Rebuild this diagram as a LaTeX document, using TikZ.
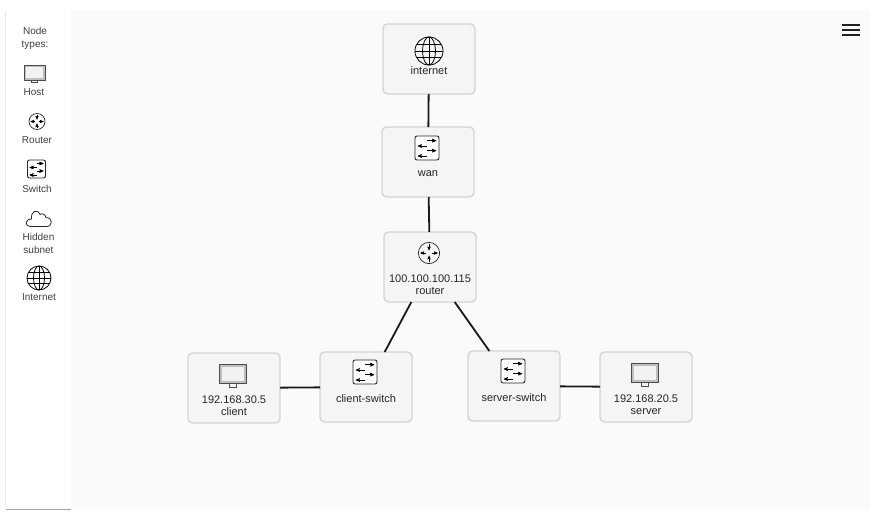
\documentclass[tikz,border=0pt]{standalone}
\usepackage{fontspec}
\setmainfont{Liberation Sans}
\usetikzlibrary{arrows, positioning}

\begin{document}
\begin{tikzpicture}[x=1pt, y=-1pt]
	\tikzset {>=stealth', node distance=40pt,
		device/.style={draw=black!17, line width=1.4pt, fill=black!4, rounded corners=4.5pt, minimum width=92pt, minimum height=70pt, outer sep=0pt},
		caption/.style={font=\fontsize{11}{12}\selectfont, align=center, text=black!85, inner sep=0pt},
		legend/.style={font=\fontsize{10}{13}\selectfont, align=center, text=black!75, inner sep=0pt},
		link/.style={line width=1.8pt, black!90},
		hosticon/.pic={
			\draw[black!70, line width=1pt, fill=black!25] (-10.5,-8) rectangle (10.5,7);
			\fill[black!5] (-8.5,-6) rectangle (8.5,5);
			\draw[black!70, line width=.8pt] (-3,7) rectangle (3,9.5);
		},
		routericon/.pic={
			\draw[black!85, line width=.7pt] (0,0) circle (8);
			\foreach \ang in {0,180} {
				\draw[->, black, line width=.45pt, rotate=\ang] (2,0) -- (6.5,0);
			}
			\foreach \ang in {90,270} {
				\draw[->, black, line width=.45pt, rotate=\ang] (6.5,0) -- (2,0);
			}
		},
		switchicon/.pic={
			\draw[black!85, line width=.9pt, fill=white, rounded corners=2pt] (-9,-9) rectangle (9,9);
			\draw[->, black, line width=.6pt] (0,-5.5) -- (7,-5.5);
			\draw[->, black, line width=.6pt] (0,-1.5) -- (-7,-1.5);
			\draw[->, black, line width=.6pt] (0,2) -- (7,2);
			\draw[->, black, line width=.6pt] (0,6) -- (-7,6);
		},
		cloudicon/.pic={
			\draw[black!85, line width=.8pt] (-8,8.5) -- (8,8.5) .. controls (14.5,8.5) and (14.5,-.5) .. (7.5,-.5) .. controls (7,-4) and (3,-5) .. (1.5,-3.5) .. controls (-1,-9.5) and (-8,-7) .. (-7,1) .. controls (-14,1) and (-14,8.5) .. (-8,8.5) -- cycle;
		},
		globeicon/.pic={
			\draw[black, line width=.8pt] (0,0) circle (12);
			\draw[black, line width=.8pt] (0,0) ellipse (5.5 and 12);
			\draw[black, line width=.8pt] (0,-12) -- (0,12) (-12,0) -- (12,0) (-10.4,-5.5) -- (10.4,-5.5) (-10.4,5.5) -- (10.4,5.5);
		}
	}

	\useasboundingbox (0,0) rectangle (885,520);
	\fill[white] (0,0) rectangle (885,520);
	\fill[black!2] (71,10) rectangle (870,509);
	\fill[black!7] (5,11) rectangle (6,509);
	\fill[black!35] (6,509) rectangle (71,510);

	\node[legend] (nodetypes) at (35,38) {Node\\types:};
	\pic at (34.5,73) {hosticon};
	\node[legend] (hostlegend) at (34,92.5) {Host};
	\pic at (37,121.5) {routericon};
	\node[legend] (routerlegend) at (37,140.5) {Router};
	\pic at (36.5,169) {switchicon};
	\node[legend] (switchlegend) at (37,188.5) {Switch};
	\pic at (38.5,218) {cloudicon};
	\node[legend] (hiddenlegend) at (38.5,243) {Hidden\\subnet};
	\pic at (39,278) {globeicon};
	\node[legend] (internetlegend) at (39,297.5) {Internet};

	\node[device] (internet) at (429,59) {};
	\node[device, below=33pt of internet, xshift=-1pt] (wan) {};
	\node[device, below=35pt of wan, xshift=2pt] (router) {};
	\node[device] (client) at (234,388) {};
	\node[device, right=40pt of client, yshift=1pt] (clientswitch) {};
	\node[device] (serverswitch) at (514,386) {};
	\node[device, right=40pt of serverswitch, yshift=-1pt] (server) {};

	\draw[link] (internet) -- (wan);
	\draw[link] (wan) -- (router);
	\draw[link] (router) -- (clientswitch);
	\draw[link] (router) -- (serverswitch);
	\draw[link] (client) -- (clientswitch);
	\draw[link] (serverswitch) -- (server);

	\pic[scale=1.17] at ([yshift=8pt]internet.center) {globeicon};
	\node[caption] (internetname) at ([yshift=-11.5pt]internet.center) {internet};
	\pic[scale=1.33] at ([xshift=-1pt, yshift=14pt]wan.center) {switchicon};
	\node[caption] (wanname) at ([yshift=-11.5pt]wan.center) {wan};
	\pic[scale=1.33] at ([xshift=-1pt, yshift=14pt]router.center) {routericon};
	\node[caption] (routername) at ([yshift=-17.5pt]router.center) {100.100.100.115\\router};
	\pic[scale=1.27] at ([xshift=-1pt, yshift=13pt]client.center) {hosticon};
	\node[caption] (clientname) at ([yshift=-17.5pt]client.center) {192.168.30.5\\client};
	\pic[scale=1.33] at ([xshift=-1pt, yshift=15pt]clientswitch.center) {switchicon};
	\node[caption] (clientswitchname) at ([yshift=-11.5pt]clientswitch.center) {client-switch};
	\pic[scale=1.33] at ([xshift=-1pt, yshift=15pt]serverswitch.center) {switchicon};
	\node[caption] (serverswitchname) at ([yshift=-11.5pt]serverswitch.center) {server-switch};
	\pic[scale=1.27] at ([xshift=-1pt, yshift=13pt]server.center) {hosticon};
	\node[caption] (servername) at ([yshift=-17.5pt]server.center) {192.168.20.5\\server};

	\foreach \bar in {25,30,35} {
		\fill[black!87] (842,\bar-1) rectangle (860,\bar+1);
	}
\end{tikzpicture}
\end{document}
